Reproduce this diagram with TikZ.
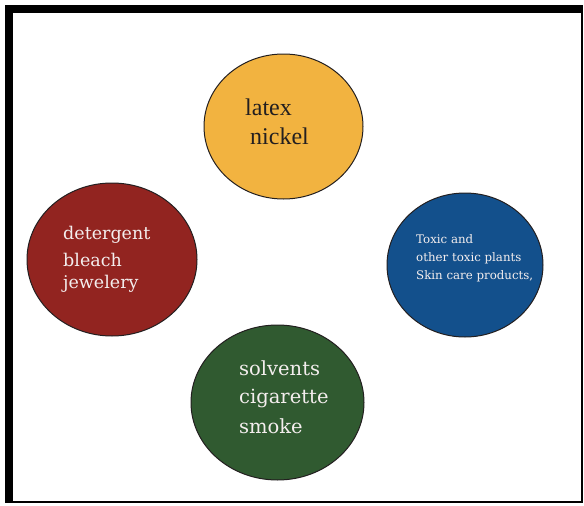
\documentclass[tikz,border=0pt]{standalone}
\usepackage{fontspec}
\setmainfont{DejaVu Serif}
\newfontfamily\yfont{Liberation Serif}
\usetikzlibrary{shapes.geometric}
\definecolor{cyellow}{HTML}{F2B340}
\definecolor{cred}{HTML}{922420}
\definecolor{cblue}{HTML}{13508C}
\definecolor{cgreen}{HTML}{305A30}
\definecolor{ctext}{HTML}{F4EEEE}
\definecolor{cdark}{HTML}{231F20}
\tikzset{
  blob/.style={ellipse, draw=cdark, line width=1pt, inner sep=0pt},
  lbl/.style={anchor=base west, inner sep=0pt, text=ctext},
}
\begin{document}
\begin{tikzpicture}[x=1pt,y=-1pt]
\useasboundingbox (0,0) rectangle (584,506);
% frame
\fill[black] (4.5,5) rectangle (13,503);
\fill[black] (4.5,5) rectangle (583,13);
\fill[black] (581,5) rectangle (583,503);
\fill[black] (4.5,500.5) rectangle (583,503);
% circles
\node[blob, fill=cyellow, minimum width=159pt, minimum height=145pt] (yel) at (283.5,126.5) {};
\node[blob, fill=cred, minimum width=170pt, minimum height=153pt] (red) at (112,259.5) {};
\node[blob, fill=cblue, minimum width=156pt, minimum height=144pt] (blu) at (465,265) {};
\node[blob, fill=cgreen, minimum width=173pt, minimum height=155pt] (grn) at (277.5,402.5) {};
% yellow text
\node[lbl, text=cdark, font=\yfont\fontsize{24}{28}\selectfont] (y1) at (245,115) {latex};
\node[lbl, text=cdark, font=\yfont\fontsize{24}{28}\selectfont] (y2) at (250,144) {nickel};
% red text
\node[lbl, font=\fontsize{17.5}{20}\selectfont] (r1) at (63,239) {detergent};
\node[lbl, font=\fontsize{17.5}{20}\selectfont] (r2) at (63,266) {bleach};
\node[lbl, font=\fontsize{17.5}{20}\selectfont] (r3) at (63,288) {jewelery};
% blue text
\node[lbl, font=\fontsize{11.8}{13}\selectfont] (b1) at (416,243) {Toxic and};
\node[lbl, font=\fontsize{11.8}{13}\selectfont] (b2) at (416,261) {other toxic plants};
\node[lbl, font=\fontsize{11.8}{13}\selectfont] (b3) at (416,279) {Skin care products,};
% green text
\node[lbl, font=\fontsize{19.5}{22}\selectfont] (g1) at (239,375) {solvents};
\node[lbl, font=\fontsize{19.5}{22}\selectfont] (g2) at (239,403) {cigarette};
\node[lbl, font=\fontsize{19.5}{22}\selectfont] (g3) at (239,433) {smoke};
\end{tikzpicture}
\end{document}
